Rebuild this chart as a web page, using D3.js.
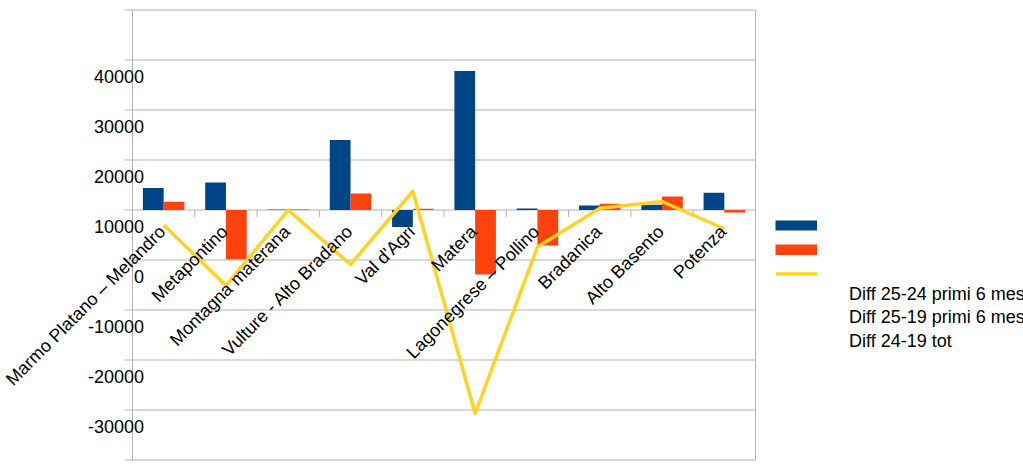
<!DOCTYPE html>
<html><head><meta charset="utf-8">
<script src="https://cdn.jsdelivr.net/npm/d3@7"></script>
<style>
html,body{margin:0;padding:0;background:#fff;}
svg{display:block;font-family:"Liberation Sans",Arial,sans-serif;}
</style></head>
<body><svg id="c" width="1023" height="471"></svg>
<script>
const categories = ["Marmo Platano – Melandro","Metapontino","Montagna materana","Vulture - Alto Bradano","Val d'Agri","Matera","Lagonegrese – Pollino","Bradanica","Alto Basento","Potenza"];
const diff2524 = [4400, 5500, 80, 14000, -3400, 27800, 300, 900, 1050, 3450];
const diff2519 = [1650, -9850, 120, 3300, 250, -12900, -7100, 1250, 2700, -500];
const diff2419 = [-3000, -15100, 0, -10900, 3750, -40700, -7400, 350, 1700, -3750];
const seriesNames = ["Diff 25-24 primi 6 mesi","Diff 25-19 primi 6 mesi","Diff 24-19 tot"];
const yTicks = [40000,30000,20000,10000,0,-10000,-20000,-30000,-40000,-50000];
const yLabelTicks = [40000,30000,20000,10000,0,-10000,-20000,-30000];

const colors = ["#004586","#ff420e","#ffd320"];
const svg = d3.select("#c");
const L = 132.5, R = 755.5, T = 10, B = 460;
const x = d3.scaleBand().domain(categories).range([L, R]).paddingInner(0).paddingOuter(0);
const y = d3.scaleLinear().domain([-50000, 40000]).range([B, T]);
const grid = "#b3b3b3";

// gridlines
svg.append("g").selectAll("line").data(yTicks).join("line")
  .attr("x1", L - 8).attr("x2", R).attr("y1", d => y(d)).attr("y2", d => y(d))
  .attr("stroke", grid).attr("stroke-width", 1);
// axis lines
svg.append("line").attr("x1", L).attr("x2", L).attr("y1", T).attr("y2", B).attr("stroke", grid);
svg.append("line").attr("x1", R).attr("x2", R).attr("y1", T).attr("y2", B).attr("stroke", grid);
// x-axis ticks at category boundaries on zero line
const bounds = categories.map(c => x(c)).concat([R]);
svg.append("g").selectAll("line").data(bounds).join("line")
  .attr("x1", d => d).attr("x2", d => d).attr("y1", y(0)).attr("y2", y(0) + 7)
  .attr("stroke", grid);

// bars
const xs = d3.scaleBand().domain([0,1]).range([0, x.bandwidth()]).paddingInner(0).paddingOuter(0.5);
[diff2524, diff2519].forEach((vals, si) => {
  svg.append("g").selectAll("rect").data(vals).join("rect")
    .attr("x", (d, i) => x(categories[i]) + xs(si))
    .attr("width", xs.bandwidth())
    .attr("y", d => y(Math.max(0, d)))
    .attr("height", d => Math.abs(y(d) - y(0)))
    .attr("fill", colors[si]);
});

// line
const line = d3.line().x((d, i) => x(categories[i]) + x.bandwidth() / 2).y(d => y(d));
svg.append("path").datum(diff2419).attr("d", line)
  .attr("fill", "none").attr("stroke", colors[2]).attr("stroke-width", 3.5)
  .attr("stroke-linejoin", "round");

// y labels (offset as in reference)
svg.append("g").selectAll("text").data(yLabelTicks).join("text")
  .attr("x", 144).attr("y", d => y(d) + 73)
  .attr("text-anchor", "end").attr("font-size", 18).attr("fill", "#000")
  .text(d => d);

// category labels
svg.append("g").selectAll("text").data(categories).join("text")
  .attr("transform", d => `translate(${x(d) + x.bandwidth()/2 + 3},${y(0) + 23}) rotate(-45)`)
  .attr("text-anchor", "end").attr("font-size", 18).attr("fill", "#000")
  .text(d => d);

// legend
const lg = svg.append("g");
lg.append("rect").attr("x", 775.5).attr("y", 220.5).attr("width", 41.5).attr("height", 10).attr("fill", colors[0]);
lg.append("rect").attr("x", 775.5).attr("y", 244.5).attr("width", 41.5).attr("height", 10.5).attr("fill", colors[1]);
lg.append("line").attr("x1", 776).attr("x2", 817.5).attr("y1", 274).attr("y2", 274).attr("stroke", colors[2]).attr("stroke-width", 3.5);
lg.selectAll("text").data(seriesNames).join("text")
  .attr("x", 849).attr("y", (d, i) => 300 + i * 23.4)
  .attr("font-size", 18).attr("fill", "#000").text(d => d);
</script></body></html>
